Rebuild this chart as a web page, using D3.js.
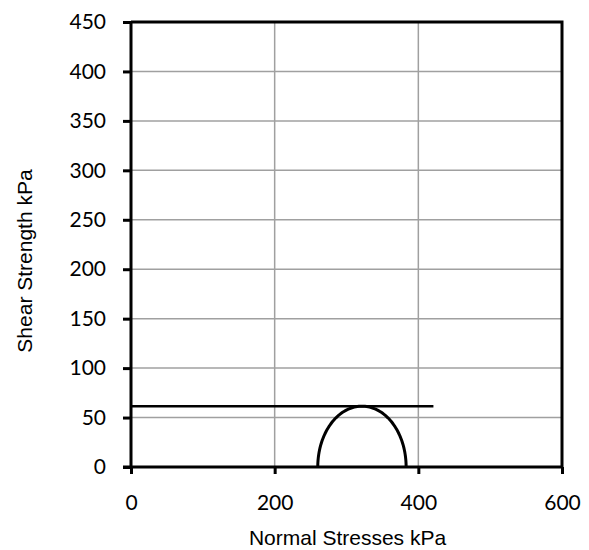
<!DOCTYPE html>
<html>
<head>
<meta charset="utf-8">
<script src="https://cdn.jsdelivr.net/npm/d3@7"></script>
<style>
  html, body { margin: 0; padding: 0; background: #fff; }
  svg text { fill: #000; }
</style>
</head>
<body>
<svg id="chart" width="589" height="550"></svg>
<script>
// Axis ticks
const xTicks = [0, 200, 400, 600];
const yTicks = [0, 50, 100, 150, 200, 250, 300, 350, 400, 450];

// Mohr circle principal stresses (kPa)
const sigma3 = [260];
const sigma1 = [383];

// Failure envelope (undrained, horizontal): normal stress vs shear strength
const envelopeSigma = [0, 421];
const envelopeTau = [61.5, 61.5];

const tickFont = "Lato, 'Liberation Sans', Arial, sans-serif";
const titleFont = "'Liberation Sans', Arial, sans-serif";

const svg = d3.select("#chart");
const margin = { left: 131, right: 27, top: 22, bottom: 83 };
const W = 589, H = 550;

const x = d3.scaleLinear().domain([0, 600]).range([margin.left, W - margin.right]);
const y = d3.scaleLinear().domain([0, 450]).range([H - margin.bottom, margin.top]);

// Grid lines
const grid = svg.append("g");
grid.selectAll("line.v").data(xTicks.slice(1, -1)).join("line")
  .attr("x1", d => x(d)).attr("x2", d => x(d))
  .attr("y1", y(0)).attr("y2", y(450))
  .attr("stroke", "#a0a0a0").attr("stroke-width", 1.5);
grid.selectAll("line.h").data(yTicks.slice(1, -1)).join("line")
  .attr("x1", x(0)).attr("x2", x(600))
  .attr("y1", d => y(d)).attr("y2", d => y(d))
  .attr("stroke", "#a0a0a0").attr("stroke-width", 1.5);

// Frame (top and right)
svg.append("path")
  .attr("d", `M${x(0)},${y(450)}H${x(600)}V${y(0)}`)
  .attr("fill", "none").attr("stroke", "#000").attr("stroke-width", 3);

// Envelope line
svg.append("line")
  .attr("x1", x(envelopeSigma[0])).attr("x2", x(envelopeSigma[1]))
  .attr("y1", y(envelopeTau[0])).attr("y2", y(envelopeTau[1]))
  .attr("stroke", "#000").attr("stroke-width", 2.5);

// Mohr semicircle
const c = (sigma1[0] + sigma3[0]) / 2, r = (sigma1[0] - sigma3[0]) / 2;
const pts = d3.range(0, 181, 2).map(a => {
  const t = a * Math.PI / 180;
  return [c + r * Math.cos(t), r * Math.sin(t)];
});
svg.append("path")
  .attr("d", d3.line().x(d => x(d[0])).y(d => y(d[1]))(pts))
  .attr("fill", "none").attr("stroke", "#000").attr("stroke-width", 3);

// Axes
const xAxis = d3.axisBottom(x).tickValues(xTicks).tickSize(7).tickPadding(21);
const gx = svg.append("g").attr("transform", `translate(0,${y(0)})`).call(xAxis);
gx.attr("font-size", null).attr("font-family", null);
gx.select(".domain").attr("stroke", "#000").attr("stroke-width", 3)
  .attr("d", `M${x(0) - 8},0H${x(600)}`);
gx.selectAll(".tick line").attr("stroke", "#000").attr("stroke-width", 3);
gx.selectAll(".tick text").style("font-size", "21px").style("font-family", tickFont);

const yAxis = d3.axisLeft(y).tickValues(yTicks).tickSize(8).tickPadding(17);
const gy = svg.append("g").attr("transform", `translate(${x(0)},0)`).call(yAxis);
gy.attr("font-size", null).attr("font-family", null);
gy.select(".domain").attr("stroke", "#000").attr("stroke-width", 3)
  .attr("d", `M0,${y(450)}V${y(0)}`);
gy.selectAll(".tick line").attr("stroke", "#000").attr("stroke-width", 3);
gy.selectAll(".tick text").style("font-size", "21px").style("font-family", tickFont);

// Axis titles
svg.append("text")
  .attr("x", (x(0) + x(600)) / 2 + 1).attr("y", 545)
  .attr("text-anchor", "middle")
  .style("font-size", "21px").style("font-family", titleFont)
  .text("Normal Stresses kPa");
svg.append("text")
  .attr("transform", `translate(32,261) rotate(-90)`)
  .attr("text-anchor", "middle")
  .style("font-size", "21px").style("font-family", titleFont)
  .text("Shear Strength kPa");
</script>
</body>
</html>
